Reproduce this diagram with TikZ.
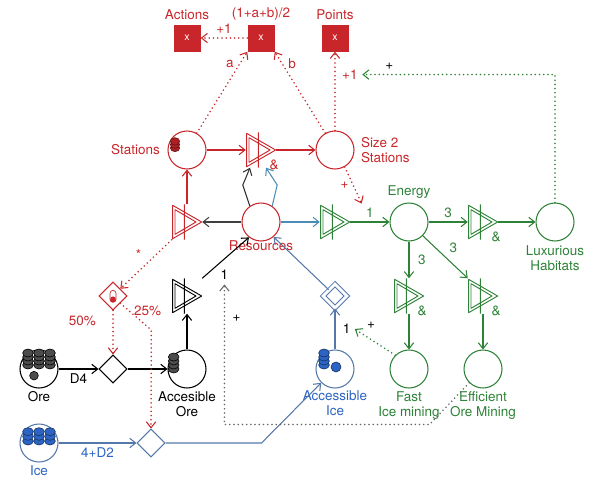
\documentclass[tikz,border=0pt]{standalone}
\usepackage{fontspec}
\setmainfont{TeX Gyre Heros}
\usetikzlibrary{shapes.geometric, arrows.meta, positioning}
\definecolor{mred}{RGB}{200,38,42}
\definecolor{mgreen}{RGB}{45,130,55}
\definecolor{mblue}{RGB}{45,100,195}
\definecolor{mline}{RGB}{85,120,170}
\definecolor{mteal}{RGB}{75,140,180}
\tikzset{
  pool/.style = {circle, draw=#1, line width=0.9pt, minimum size=1.14cm, inner sep=0pt},
  pool/.default = black,
  conv/.style = {rectangle, minimum width=0.9cm, minimum height=1.05cm, inner sep=0pt,
    path picture={
      \draw[#1, line width=0.8pt, line join=round]
        ([shift={(-0.43,0.5)}]path picture bounding box.center) -- ++(0.87,-0.5) -- ++(-0.87,-0.5) -- cycle
        ([shift={(-0.36,0.37)}]path picture bounding box.center) -- ++(0.63,-0.37) -- ++(-0.63,-0.37) -- cycle
        ([shift={(-0.08,0.53)}]path picture bounding box.center) -- ++(0,-1.06);
    }},
  amp/.style = {label={[lbl=#1, inner sep=0pt, label distance=-0.3cm]-50:\&}},
  gate/.style = {diamond, draw=#1, line width=0.9pt, minimum size=0.84cm, inner sep=0pt},
  randicon/.style = {path picture={
      \draw[mred, fill=white, line width=0.6pt, rounded corners=0.09cm] ([shift={(-0.09,-0.19)}]path picture bounding box.center) rectangle ++(0.18,0.36);
      \fill[mred, rounded corners=0.06cm] ([shift={(-0.08,-0.18)}]path picture bounding box.center) rectangle ++(0.16,0.16);
    }},
  xbox/.style = {rectangle, fill=mred, minimum size=0.81cm, text=white, font=\small},
  lbl/.style = {font=\fontsize{11.5}{13}\selectfont, align=center, text=#1},
  lbl/.default = black,
  flow/.style = {-{Straight Barb[length=5pt, width=8pt, line width=0.9pt]}, line width=0.9pt, draw=#1},
  state/.style = {-{Straight Barb[length=5pt, width=8pt, line width=0.9pt]}, line width=1.5pt, dash pattern=on 0pt off 3.6pt, line cap=round, draw=#1},
  coin/.style = {draw=#1, line width=0.5pt}
}

\begin{document}
\begin{tikzpicture}[node distance=2.22cm, on grid]
\useasboundingbox (0,0) rectangle (17.67,-14.43);

% Middle row
\node[pool=mred, label={[lbl=mred, label distance=-4pt]below:Resources}] (resources) at (7.83,-6.66) {};
\node[conv=mred, left=of resources] (convStation) {};
\node[conv=mgreen, right=of resources] (convEnergy) {};
\node[pool=mgreen, right=of convEnergy, label={[lbl=mgreen]above:Energy}] (energy) {};
\node[conv=mgreen, amp=mgreen, right=of energy] (convLux) {};
\node[pool=mgreen, right=2.16cm of convLux, label={[lbl=mgreen]below:Luxurious\\Habitats}] (luxury) {};

% Stations row
\node[pool=mred, above=2.16cm of convStation, label={[lbl=mred, label distance=3pt]left:Stations}] (stations) {};
\node[conv=mred, amp=mred, above=2.16cm of resources] (convAmp) {};
\node[pool=mred, above=2.16cm of convEnergy, label={[lbl=mred, align=left, label distance=2pt]right:Size 2\\Stations}] (size2) {};

% Top row
\node[xbox, above=3.36cm of convAmp, label={[lbl=mred]above:(1+a+b)/2}] (formula) {x};
\node[xbox, left=of formula, label={[lbl=mred]above:Actions}] (actions) {x};
\node[xbox, above=3.36cm of size2, label={[lbl=mred]above:Points}] (points) {x};

% Ore and ice
\node[conv=black, below=of convStation] (convOre) {};
\node[pool, below=2.19cm of convOre, label={[lbl, label distance=-1pt]below:Accesible\\Ore}] (accOre) {};
\node[gate=black, left=of accOre] (oreGate) {};
\node[pool, left=of oreGate, label={[lbl, label distance=-1pt]below:Ore}] (ore) {};
\node[gate=mred, randicon, above=2.19cm of oreGate,
      label={[lbl=mred, label distance=0.2cm]-20:25\%},
      label={[lbl=mred, label distance=0.3cm]230:50\%}] (randGate) {};
\node[pool=mline, below=of ore, label={[lbl=mblue, label distance=-1pt]below:Ice}] (ice) {};
\node[gate=mline, right=3.36cm of ice] (iceGate) {};
\node[gate=mline, double=white, double distance=2.4pt, minimum size=0.72cm, below=of convEnergy] (iceDiamond) {};
\node[pool=mline, below=2.19cm of iceDiamond, label={[lbl=mblue, label distance=-2pt]below:Accessible\\Ice}] (accIce) {};

% Mining upgrades
\node[conv=mgreen, amp=mgreen, below=of energy] (convFast) {};
\node[pool=mgreen, below=2.19cm of convFast, label={[lbl=mgreen, label distance=-1pt]below:Fast\\Ice mining}] (fastIce) {};
\node[conv=mgreen, amp=mgreen, below=of convLux] (convEff) {};
\node[pool=mgreen, below=2.19cm of convEff, label={[lbl=mgreen, label distance=-1pt]below:Efficient\\Ore Mining}] (effOre) {};

% Tokens
\foreach \dx in {-0.33,0,0.33}
  \foreach \dy in {0.12,0.24,0.36,0.48}
    \draw[coin=black, fill=black!70] ([shift={(\dx,\dy)}]ore.center) ellipse (0.16 and 0.12);
\draw[coin=black, fill=black!70] ([shift={(-0.15,-0.2)}]ore.center) circle (0.13);
\foreach \dy in {0,0.12,0.24,0.36}
  \draw[coin=black, fill=black!70] ([shift={(-0.4,\dy)}]accOre.center) ellipse (0.16 and 0.12);
\foreach \dx in {-0.33,0,0.33}
  \foreach \dy in {0.06,0.2,0.34}
    \draw[coin=mblue!50!black, fill=mblue] ([shift={(\dx,\dy)}]ice.center) ellipse (0.16 and 0.12);
\foreach \dy in {0.12,0.24,0.36,0.48}
  \draw[coin=mblue!50!black, fill=mblue] ([shift={(-0.33,\dy)}]accIce.center) ellipse (0.16 and 0.12);
\draw[coin=mblue!50!black, fill=mblue] ([shift={(0.03,0.06)}]accIce.center) circle (0.15);
\foreach \dy in {0.06,0.16,0.26}
  \draw[coin=mred!50!black, fill=mred!85!black] ([shift={(-0.36,\dy)}]stations.center) ellipse (0.14 and 0.11);

% Flows
\draw[flow=black] (ore) -- node[lbl, below] {D4} (oreGate);
\draw[flow=black] (oreGate) -- (accOre);
\draw[flow=black] (accOre) -- (convOre);
\draw[flow=black] (convOre.north east) -- node[lbl, pos=0.3, below right=0pt] (oreOne) {1} (resources.232);

\draw[flow=mline] (ice) -- node[lbl=mblue, below] {4+D2} (iceGate);
\draw[flow=mline] (iceGate.east) -- ++(2.88,0) -- (accIce.225);
\draw[flow=mline] (accIce) -- node[lbl, right=3pt] (iceOne) {1} (iceDiamond);
\draw[flow=mline] (iceDiamond.north west) -- (resources.-50);

\draw[flow=black!75] (resources) -- (convStation);
\draw[flow=mteal] (resources) -- (convEnergy);
\draw[flow=black!80] (resources.125) -- ++(-0.21,0.63) -- ([xshift=-0.33cm]convAmp.south);
\draw[flow=mteal] (resources.55) -- ++(0.15,0.63) -- ([xshift=0.15cm]convAmp.south);

\draw[flow=mred] (convStation) -- (stations);
\draw[flow=mred] (stations) -- (convAmp);
\draw[flow=mred] (convAmp) -- (size2);

\draw[flow=mgreen] (convEnergy) -- node[lbl=mgreen, above] (energyOne) {1} (energy);
\draw[flow=mgreen] (energy) -- node[lbl=mgreen, above] {3} (convLux);
\draw[flow=mgreen] (convLux) -- (luxury);
\draw[flow=mgreen] (energy) -- node[lbl=mgreen, right=4pt] {3} (convFast);
\draw[flow=mgreen] (energy.-45) -- node[lbl=mgreen, above right=0pt] {3} (convEff.north west);
\draw[flow=mgreen] (convFast) -- (fastIce);
\draw[flow=mgreen] (convEff) -- (effOre);

% State connections
\draw[state=mred] (formula) -- node[lbl=mred, above] {+1} (actions);
\draw[state=mred] (stations.60) -- node[lbl=mred, pos=0.85, left=1pt] {a} (formula.south west);
\draw[state=mred] (size2.120) -- node[lbl=mred, pos=0.85, right=1pt] {b} (formula.south east);
\draw[state=mred] (size2) -- node[lbl=mred, pos=0.71, right=2pt] (plusOne) {+1} (points);
\draw[state=mgreen] (luxury.north) |- node[lbl, pos=0.93, above] {+} (plusOne.east);
\draw[state=mred] (size2.300) -- node[lbl=mred, midway, left] {+} (energyOne.north west);
\draw[state=mred] (convStation.south west) -- node[lbl=mred, midway, above left=0pt] {*} (randGate.north east);
\draw[state=mred] (randGate) -- (oreGate);
\draw[state=mred] (randGate.south east) -- ++(0.93,-0.8) -- (iceGate);
\draw[state=black!60] (effOre.225) -- ++(-1.19,-1.25) -| node[lbl, pos=0.88, right=3pt] {+} (oreOne.south);
\draw[state=mgreen] (fastIce.135) -- node[lbl, pos=0.6, above=5pt] {+} (iceOne.east);

\end{tikzpicture}
\end{document}
